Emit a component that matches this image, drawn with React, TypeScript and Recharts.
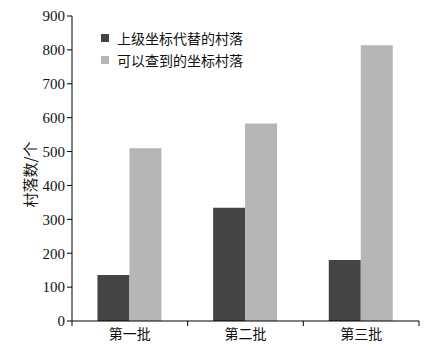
import { Bar, BarChart, XAxis, YAxis } from "recharts"

const batches = ["第一批", "第二批", "第三批"]
const replacedByUpper = [136, 334, 180]
const foundCoords = [510, 583, 814]
const yTicks = [0, 100, 200, 300, 400, 500, 600, 700, 800, 900]

const seriesNames = ["上级坐标代替的村落", "可以查到的坐标村落"]
const colors = ["#444444", "#b6b6b6"]

const data = batches.map((name, i) => ({
  name,
  upper: replacedByUpper[i],
  found: foundCoords[i],
}))

const serif = "'Liberation Serif', 'DejaVu Serif', serif"
const cjk = "'Noto Sans CJK SC', sans-serif"

function CategoryTick(props: any) {
  const { x, y, payload, index } = props
  const half = payload.offset ?? 58
  return (
    <g>
      <line x1={x - half} y1={y - 8} x2={x - half} y2={y - 3} stroke="#000" />
      {index === batches.length - 1 && (
        <line x1={x + half} y1={y - 8} x2={x + half} y2={y - 3} stroke="#000" />
      )}
      <text x={x} y={y + 10} textAnchor="middle" fontSize={14} fontFamily={cjk} fill="#111">
        {payload.value}
      </text>
    </g>
  )
}

function YLabel(props: any) {
  const vb = props.viewBox
  const cx = 29
  const cy = vb.y + vb.height / 2 + 6
  return (
    <text
      x={cx}
      y={cy}
      transform={`rotate(-90 ${cx} ${cy})`}
      textAnchor="middle"
      dominantBaseline="central"
      fontSize={15}
      fontFamily={cjk}
      fill="#111"
    >
      村落数/个
    </text>
  )
}

// legend drawn as an overlay so it doesn't shrink the plot area
function LegendBox() {
  return (
    <div
      style={{
        position: "absolute",
        left: 101,
        top: 27,
        fontFamily: cjk,
        fontSize: 14,
        color: "#111",
        lineHeight: "22px",
      }}
    >
      {seriesNames.map((n, i) => (
        <div key={n} style={{ display: "flex", alignItems: "center" }}>
          <span style={{ width: 8, height: 8, background: colors[i], marginRight: 8, display: "inline-block" }} />
          {n}
        </div>
      ))}
    </div>
  )
}

export default function App() {
  return (
    <div style={{ position: "absolute", left: 0, top: 0, width: 430, height: 349, background: "#fff" }}>
      <BarChart
        width={430}
        height={349}
        data={data}
        margin={{ top: 16, right: 11, left: 0, bottom: 0 }}
        barCategoryGap="22%"
        barGap={0}
      >
        <XAxis
          dataKey="name"
          height={28}
          stroke="#000"
          tickLine={false}
          tick={<CategoryTick />}
          interval={0}
        />
        <YAxis
          width={72}
          domain={[0, 900]}
          ticks={yTicks}
          interval={0}
          stroke="#000"
          tickSize={5}
          tickMargin={2}
          tick={{ fontSize: 15, fontFamily: serif, fill: "#111" }}
          label={<YLabel />}
        />
        <Bar dataKey="upper" name={seriesNames[0]} fill={colors[0]} isAnimationActive={false} />
        <Bar dataKey="found" name={seriesNames[1]} fill={colors[1]} isAnimationActive={false} />
      </BarChart>
      <LegendBox />
    </div>
  )
}
